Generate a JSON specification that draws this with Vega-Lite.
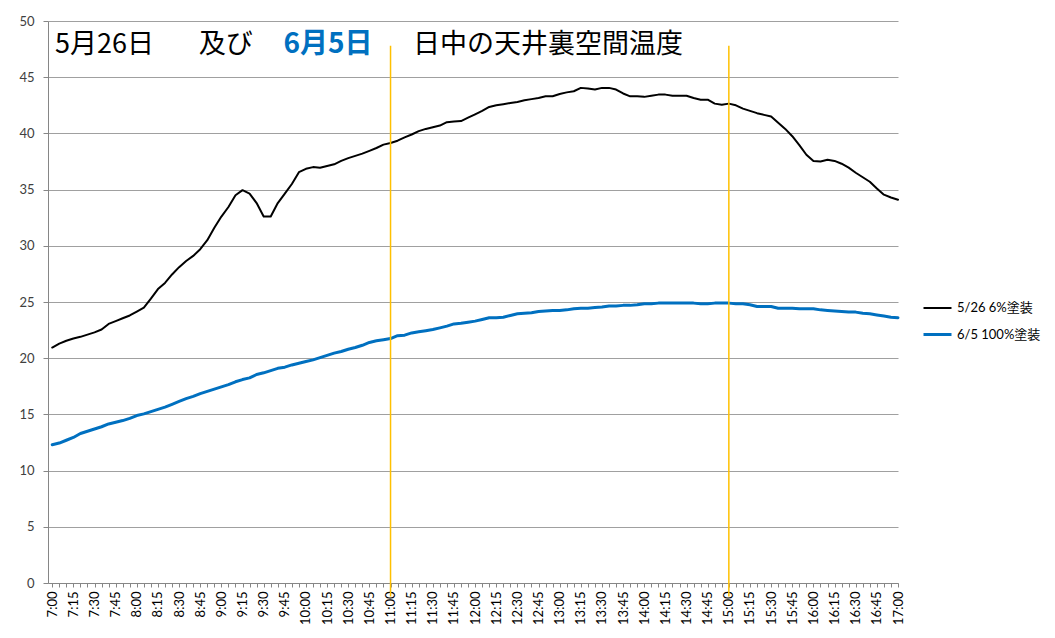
{
  "$schema": "https://vega.github.io/schema/vega-lite/v6.json",
  "width": 850,
  "height": 562,
  "autosize": {"type": "none"},
  "padding": {"left": 48, "top": 21, "right": 157, "bottom": 55},
  "background": "white",
  "config": {"font": "Lato, Noto Sans CJK JP", "view": {"stroke": null}},
  "layer": [
    {
      "data": {
        "values": [
          {"m": 420, "a": 20.95, "b": 12.3},
          {"m": 425, "a": 21.3, "b": 12.45},
          {"m": 430, "a": 21.55, "b": 12.7},
          {"m": 435, "a": 21.75, "b": 12.95},
          {"m": 440, "a": 21.9, "b": 13.3},
          {"m": 445, "a": 22.1, "b": 13.5},
          {"m": 450, "a": 22.3, "b": 13.7},
          {"m": 455, "a": 22.55, "b": 13.9},
          {"m": 460, "a": 23.05, "b": 14.15},
          {"m": 465, "a": 23.3, "b": 14.3},
          {"m": 470, "a": 23.55, "b": 14.45},
          {"m": 475, "a": 23.8, "b": 14.65},
          {"m": 480, "a": 24.15, "b": 14.9},
          {"m": 485, "a": 24.5, "b": 15.05},
          {"m": 490, "a": 25.3, "b": 15.25},
          {"m": 495, "a": 26.15, "b": 15.45},
          {"m": 500, "a": 26.7, "b": 15.65},
          {"m": 505, "a": 27.45, "b": 15.9},
          {"m": 510, "a": 28.1, "b": 16.15},
          {"m": 515, "a": 28.65, "b": 16.4},
          {"m": 520, "a": 29.1, "b": 16.6},
          {"m": 525, "a": 29.7, "b": 16.85},
          {"m": 530, "a": 30.5, "b": 17.05},
          {"m": 535, "a": 31.6, "b": 17.25},
          {"m": 540, "a": 32.6, "b": 17.45},
          {"m": 545, "a": 33.45, "b": 17.65},
          {"m": 550, "a": 34.5, "b": 17.9},
          {"m": 555, "a": 34.95, "b": 18.1},
          {"m": 560, "a": 34.65, "b": 18.25},
          {"m": 565, "a": 33.8, "b": 18.55},
          {"m": 570, "a": 32.6, "b": 18.7},
          {"m": 575, "a": 32.6, "b": 18.9},
          {"m": 580, "a": 33.8, "b": 19.1},
          {"m": 585, "a": 34.65, "b": 19.2},
          {"m": 590, "a": 35.5, "b": 19.4},
          {"m": 595, "a": 36.55, "b": 19.55},
          {"m": 600, "a": 36.85, "b": 19.7},
          {"m": 605, "a": 37.0, "b": 19.85},
          {"m": 610, "a": 36.95, "b": 20.05},
          {"m": 615, "a": 37.1, "b": 20.25},
          {"m": 620, "a": 37.25, "b": 20.45},
          {"m": 625, "a": 37.55, "b": 20.6},
          {"m": 630, "a": 37.8, "b": 20.8},
          {"m": 635, "a": 38.0, "b": 20.95},
          {"m": 640, "a": 38.2, "b": 21.15},
          {"m": 645, "a": 38.45, "b": 21.4},
          {"m": 650, "a": 38.7, "b": 21.55},
          {"m": 655, "a": 39.0, "b": 21.65},
          {"m": 660, "a": 39.15, "b": 21.75},
          {"m": 665, "a": 39.35, "b": 22.0},
          {"m": 670, "a": 39.65, "b": 22.05},
          {"m": 675, "a": 39.9, "b": 22.25},
          {"m": 680, "a": 40.2, "b": 22.35},
          {"m": 685, "a": 40.4, "b": 22.45},
          {"m": 690, "a": 40.55, "b": 22.55},
          {"m": 695, "a": 40.7, "b": 22.7},
          {"m": 700, "a": 41.0, "b": 22.85},
          {"m": 705, "a": 41.05, "b": 23.05},
          {"m": 710, "a": 41.1, "b": 23.1},
          {"m": 715, "a": 41.4, "b": 23.2},
          {"m": 720, "a": 41.7, "b": 23.3},
          {"m": 725, "a": 42.0, "b": 23.45},
          {"m": 730, "a": 42.35, "b": 23.6},
          {"m": 735, "a": 42.5, "b": 23.6},
          {"m": 740, "a": 42.6, "b": 23.65},
          {"m": 745, "a": 42.7, "b": 23.8},
          {"m": 750, "a": 42.8, "b": 23.95},
          {"m": 755, "a": 42.95, "b": 24.0},
          {"m": 760, "a": 43.05, "b": 24.05},
          {"m": 765, "a": 43.15, "b": 24.15},
          {"m": 770, "a": 43.3, "b": 24.2},
          {"m": 775, "a": 43.3, "b": 24.25},
          {"m": 780, "a": 43.5, "b": 24.25},
          {"m": 785, "a": 43.65, "b": 24.3},
          {"m": 790, "a": 43.75, "b": 24.4},
          {"m": 795, "a": 44.05, "b": 24.45},
          {"m": 800, "a": 44.0, "b": 24.45},
          {"m": 805, "a": 43.9, "b": 24.5},
          {"m": 810, "a": 44.05, "b": 24.55},
          {"m": 815, "a": 44.05, "b": 24.65},
          {"m": 820, "a": 43.9, "b": 24.65},
          {"m": 825, "a": 43.55, "b": 24.7},
          {"m": 830, "a": 43.3, "b": 24.7},
          {"m": 835, "a": 43.3, "b": 24.75},
          {"m": 840, "a": 43.25, "b": 24.85},
          {"m": 845, "a": 43.35, "b": 24.85},
          {"m": 850, "a": 43.45, "b": 24.9},
          {"m": 855, "a": 43.45, "b": 24.9},
          {"m": 860, "a": 43.35, "b": 24.9},
          {"m": 865, "a": 43.35, "b": 24.9},
          {"m": 870, "a": 43.35, "b": 24.9},
          {"m": 875, "a": 43.15, "b": 24.9},
          {"m": 880, "a": 43.0, "b": 24.85},
          {"m": 885, "a": 43.0, "b": 24.85},
          {"m": 890, "a": 42.65, "b": 24.9},
          {"m": 895, "a": 42.55, "b": 24.9},
          {"m": 900, "a": 42.65, "b": 24.9},
          {"m": 905, "a": 42.5, "b": 24.85},
          {"m": 910, "a": 42.2, "b": 24.85},
          {"m": 915, "a": 42.0, "b": 24.75},
          {"m": 920, "a": 41.8, "b": 24.6},
          {"m": 925, "a": 41.65, "b": 24.6},
          {"m": 930, "a": 41.5, "b": 24.6},
          {"m": 935, "a": 40.95, "b": 24.45},
          {"m": 940, "a": 40.4, "b": 24.45},
          {"m": 945, "a": 39.75, "b": 24.45},
          {"m": 950, "a": 38.95, "b": 24.4},
          {"m": 955, "a": 38.1, "b": 24.4},
          {"m": 960, "a": 37.55, "b": 24.4},
          {"m": 965, "a": 37.5, "b": 24.3},
          {"m": 970, "a": 37.65, "b": 24.25},
          {"m": 975, "a": 37.55, "b": 24.2},
          {"m": 980, "a": 37.3, "b": 24.15},
          {"m": 985, "a": 36.95, "b": 24.1},
          {"m": 990, "a": 36.5, "b": 24.1},
          {"m": 995, "a": 36.1, "b": 24.0},
          {"m": 1000, "a": 35.7, "b": 23.95},
          {"m": 1005, "a": 35.1, "b": 23.85},
          {"m": 1010, "a": 34.55, "b": 23.75},
          {"m": 1015, "a": 34.3, "b": 23.65},
          {"m": 1020, "a": 34.1, "b": 23.6}
        ]
      },
      "transform": [{"fold": ["a", "b"], "as": ["s", "v"]}],
      "mark": {"type": "line", "strokeJoin": "round", "strokeCap": "round"},
      "encoding": {
        "x": {
          "field": "m",
          "type": "quantitative",
          "scale": {"domain": [417, 1020], "nice": false, "zero": false},
          "axis": {
            "title": null,
            "grid": false,
            "tickCount": 121,
            "labelExpr": "datum.value % 15 === 0 ? floor(datum.value / 60) + ':' + (datum.value % 60 === 0 ? '00' : datum.value % 60) : ''",
            "labelAngle": 270,
            "labelAlign": "right",
            "labelBaseline": "middle",
            "labelOverlap": false,
            "labelFlush": false,
            "labelFontSize": 13,
            "labelColor": "#000000",
            "labelPadding": 4,
            "tickSize": 4,
            "tickColor": "#868686",
            "domainColor": "#868686"
          }
        },
        "y": {
          "field": "v",
          "type": "quantitative",
          "scale": {"domain": [0, 50], "nice": false},
          "axis": {
            "title": null,
            "values": [0, 5, 10, 15, 20, 25, 30, 35, 40, 45, 50],
            "grid": true,
            "gridColor": "#A0A0A0",
            "gridWidth": 1,
            "tickSize": 5,
            "tickColor": "#868686",
            "domainColor": "#868686",
            "labelPadding": 9,
            "labelFontSize": 13,
            "labelColor": "#404040"
          }
        },
        "color": {
          "field": "s",
          "type": "nominal",
          "scale": {"domain": ["a", "b"], "range": ["#000000", "#0070C0"]},
          "legend": {
            "title": null,
            "orient": "none",
            "legendX": 874,
            "legendY": 272,
            "padding": 0,
            "symbolType": "stroke",
            "symbolSize": 784,
            "symbolStrokeWidth": 2.5,
            "labelFontSize": 13,
            "labelColor": "#000000",
            "labelOffset": 4,
            "rowPadding": 4,
            "labelExpr": "datum.label === 'a' ? '5/26 6%塗装' : '6/5 100%塗装'"
          }
        },
        "strokeWidth": {
          "field": "s",
          "type": "nominal",
          "scale": {"domain": ["a", "b"], "range": [2, 3]},
          "legend": null
        }
      }
    },
    {
      "data": {"values": [{"m": 660}, {"m": 900}]},
      "mark": {"type": "rule", "color": "#FFC000", "strokeWidth": 1.5, "clip": false},
      "encoding": {
        "x": {"field": "m", "type": "quantitative"},
        "y": {"datum": 47.8, "type": "quantitative"},
        "y2": {"datum": -1.2}
      }
    },
    {
      "data": {"values": [{}]},
      "mark": {"type": "text", "text": "5月26日", "align": "left", "baseline": "middle", "fontSize": 27, "font": "Noto Sans CJK JP", "color": "#000000"},
      "encoding": {
        "x": {"datum": 422, "type": "quantitative"},
        "y": {"datum": 47.9, "type": "quantitative"}
      }
    },
    {
      "data": {"values": [{}]},
      "mark": {"type": "text", "text": "及び", "align": "left", "baseline": "middle", "fontSize": 27, "font": "Noto Sans CJK JP", "color": "#000000"},
      "encoding": {
        "x": {"datum": 524, "type": "quantitative"},
        "y": {"datum": 47.9, "type": "quantitative"}
      }
    },
    {
      "data": {"values": [{}]},
      "mark": {"type": "text", "text": "6月5日", "align": "left", "baseline": "middle", "fontSize": 28, "fontWeight": "bold", "font": "Noto Sans CJK JP", "color": "#0070C0"},
      "encoding": {
        "x": {"datum": 584, "type": "quantitative"},
        "y": {"datum": 47.9, "type": "quantitative"}
      }
    },
    {
      "data": {"values": [{}]},
      "mark": {"type": "text", "text": "日中の天井裏空間温度", "align": "left", "baseline": "middle", "fontSize": 27, "font": "Noto Sans CJK JP", "color": "#000000"},
      "encoding": {
        "x": {"datum": 676, "type": "quantitative"},
        "y": {"datum": 47.9, "type": "quantitative"}
      }
    }
  ]
}
